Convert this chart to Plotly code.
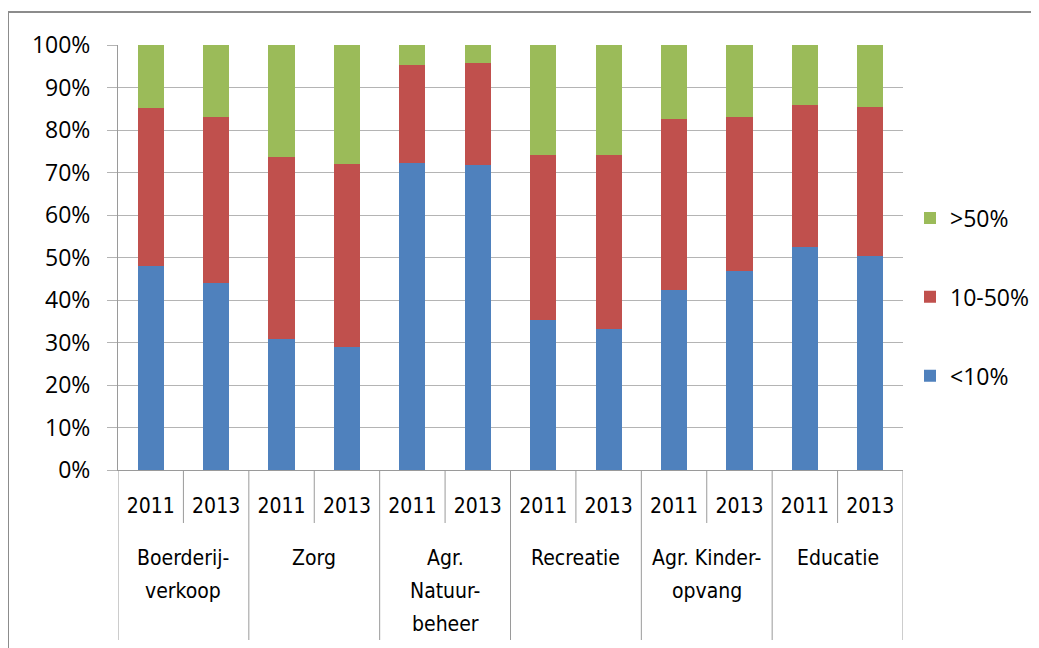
import plotly.graph_objects as go

groups = ["Boerderij-\nverkoop", "Zorg", "Agr.\nNatuur-\nbeheer", "Recreatie", "Agr. Kinder-\nopvang", "Educatie"]
years = ["2011", "2013"]
series_names = ["<10%", "10-50%", ">50%"]
colors = ["#4F81BD", "#C0504D", "#9BBB59"]

# shares per bar (12 bars: group x year), values in fraction
low = [0.480, 0.441, 0.308, 0.289, 0.722, 0.718, 0.353, 0.332, 0.423, 0.468, 0.525, 0.504]
mid = [0.371, 0.389, 0.428, 0.432, 0.232, 0.239, 0.389, 0.410, 0.404, 0.362, 0.335, 0.350]
high = [0.149, 0.170, 0.264, 0.279, 0.046, 0.043, 0.258, 0.258, 0.173, 0.170, 0.140, 0.146]
values = [low, mid, high]
legend_ranks = [3, 2, 1]

n = len(groups) * len(years)
xs = list(range(n))
year_labels = [years[i % len(years)] for i in xs]

TICK_FONT = "Open Sans, Lato, sans-serif"
CAT_FONT = "Liberation Sans Narrow, DejaVu Sans Condensed, Arial Narrow, sans-serif"
GRID = "#b4b4b4"
LINE = "#9a9a9a"

fig = go.Figure()
for name, vals, col, rk in zip(series_names, values, colors, legend_ranks):
    fig.add_trace(go.Bar(
        x=xs, y=vals, name=name, marker=dict(color=col, line=dict(width=0)),
        width=0.4, legendgroup=name, legendrank=rk,
    ))

# the page body has an 8px margin; figure is sized to fill the rest of the window
OFF = 8
WIN_W, WIN_H = 1039, 648
W, H = WIN_W - OFF, WIN_H - OFF
# plot area in window pixels: x 118..903, y 45..470
L, T = 118 - OFF, 45 - OFF
R = WIN_W - 903
B = WIN_H - 470
pw, ph = W - L - R, H - T - B

def py(win_y):
    return (WIN_H - B - win_y) / ph

def pxx(win_x):
    return (win_x - OFF - L) / pw

shapes = []
for k in range(n + 1):
    xb = k - 0.5
    is_group = (k % len(years) == 0)
    shapes.append(dict(type="line", xref="x", yref="paper", x0=xb, x1=xb,
                       y0=0, y1=py(640) if is_group else py(523),
                       line=dict(color=LINE, width=1)))
shapes.append(dict(type="line", xref="paper", yref="paper", x0=pxx(8), x1=pxx(1060),
                   y0=py(12), y1=py(12), line=dict(color="#8c8c8c", width=2)))
shapes.append(dict(type="line", xref="paper", yref="paper", x0=pxx(8), x1=pxx(8),
                   y0=py(12), y1=py(670), line=dict(color="#8c8c8c", width=2)))

annotations = []
for gi, g in enumerate(groups):
    cx = gi * len(years) + (len(years) - 1) / 2
    for li, line in enumerate(g.split("\n")):
        annotations.append(dict(x=cx, xref="x", yref="paper", y=py(557.5 + 33 * li),
                                yanchor="middle", xanchor="center", showarrow=False,
                                text=line, font=dict(family=CAT_FONT, size=21, color="#000000")))

fig.update_layout(
    width=W, height=H,
    margin=dict(l=L, r=R, t=T, b=B, autoexpand=False),
    barmode="stack",
    paper_bgcolor="white", plot_bgcolor="white",
    showlegend=True,
    legend=dict(x=pxx(910), xanchor="left", y=py(297), yanchor="middle",
                traceorder="grouped", tracegroupgap=46,
                font=dict(family=TICK_FONT, size=23, color="#000000"),
                itemwidth=30, bgcolor="rgba(0,0,0,0)"),
    shapes=shapes,
    annotations=annotations,
    xaxis=dict(range=[-0.5, n - 0.5], tickmode="array", tickvals=xs, ticktext=year_labels,
               showgrid=False, showline=True, linecolor=LINE, linewidth=1, ticks="",
               tickfont=dict(family=CAT_FONT, size=21, color="#000000"),
               ticklabelstandoff=17, fixedrange=True),
    yaxis=dict(range=[0, 1], dtick=0.1, tickformat=".0%", showgrid=True, gridcolor=GRID,
               gridwidth=1, showline=True, linecolor=LINE, linewidth=1, ticks="outside",
               ticklen=10, tickcolor=GRID, ticklabelstandoff=12,
               tickfont=dict(family=TICK_FONT, size=23, color="#000000"),
               zeroline=False, fixedrange=True),
)

fig.write_html("out.html")
